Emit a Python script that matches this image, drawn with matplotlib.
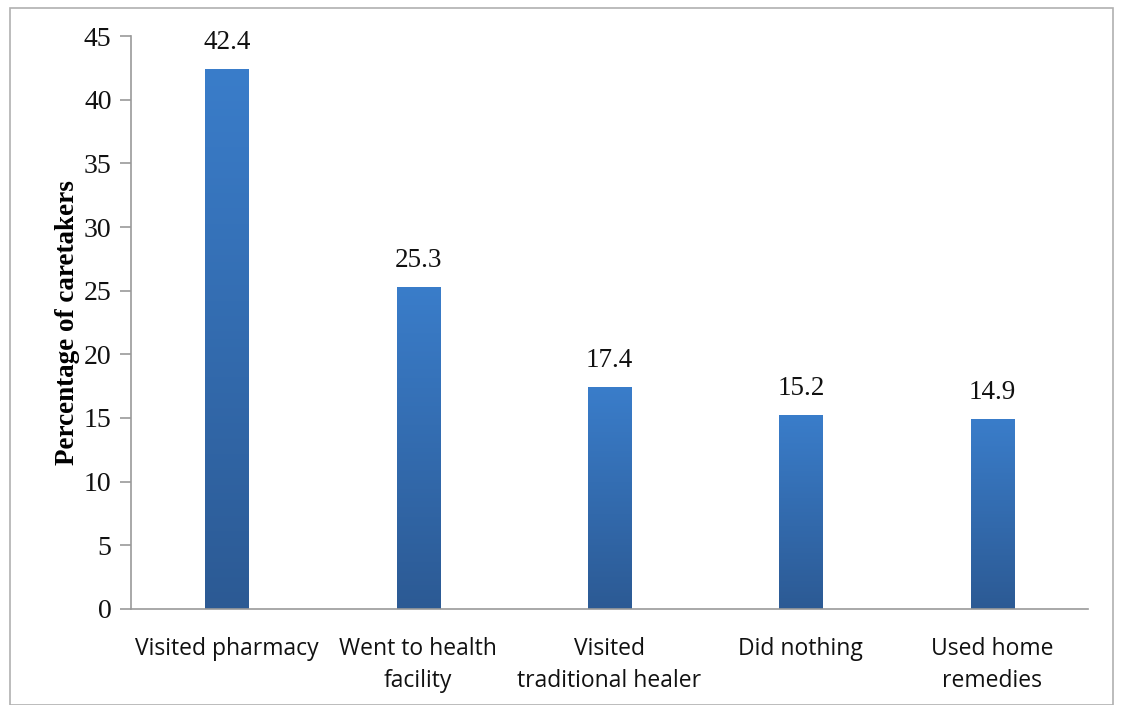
import numpy as np
import matplotlib.pyplot as plt
from matplotlib.colors import LinearSegmentedColormap
from matplotlib.patches import Rectangle

# data
categories = ["Visited pharmacy", "Went to health\nfacility", "Visited\ntraditional healer",
              "Did nothing", "Used home\nremedies"]
percent = [42.4, 25.3, 17.4, 15.2, 14.9]

fig = plt.figure(figsize=(11.22, 7.05), dpi=100)
ax = fig.add_axes([0.1168, 0.1362, 0.8529, 0.8127])

# frame around the whole picture
fig.patches.append(Rectangle((0.009, 0.0), 0.983, 0.989, transform=fig.transFigure,
                             fill=False, edgecolor="#b0b0b0", linewidth=1.2))

x = np.arange(len(categories))
width = 0.225
bars = ax.bar(x, percent, width=width, color="none", edgecolor="none", zorder=2)

# vertical gradient fill, light blue on top -> darker at bottom
cmap = LinearSegmentedColormap.from_list("bar", ["#2c5a94", "#3a7dca"])
grad = np.linspace(0, 1, 256).reshape(-1, 1)
for b in bars:
    x0, h = b.get_x(), b.get_height()
    im = ax.imshow(grad, cmap=cmap, origin="lower", aspect="auto",
                   extent=(x0, x0 + width, 0, h), zorder=2)
    im.set_clip_path(b)

for xi, v in zip(x, percent):
    ax.text(xi, v + 1.1, f"{v}", ha="center", va="bottom",
            family="Liberation Serif", fontsize=19.5, color="#111111")

ax.set_xlim(-0.5, len(categories) - 0.5)
ax.set_ylim(0, 45)
ax.set_yticks(np.arange(0, 46, 5))
ax.set_xticks(x)
ax.set_xticklabels(categories, family="Open Sans", fontsize=16.5, color="#111111",
                   linespacing=1.45)
for lbl in ax.get_yticklabels():
    lbl.set_family("Liberation Serif")
    lbl.set_fontsize(20)
    lbl.set_color("#111111")

ax.tick_params(axis="x", length=0, pad=20)
ax.tick_params(axis="y", length=8, width=1.2, color="#999999", pad=6)

for s in ["top", "right"]:
    ax.spines[s].set_visible(False)
ax.spines["left"].set_color("#999999")
ax.spines["bottom"].set_color("#999999")
ax.spines["left"].set_linewidth(1.2)
ax.spines["bottom"].set_linewidth(1.2)

ax.set_ylabel("Percentage of caretakers", family="Liberation Serif", fontsize=19.5,
              fontweight="bold", labelpad=3)

fig.savefig("out.png", dpi=100)
